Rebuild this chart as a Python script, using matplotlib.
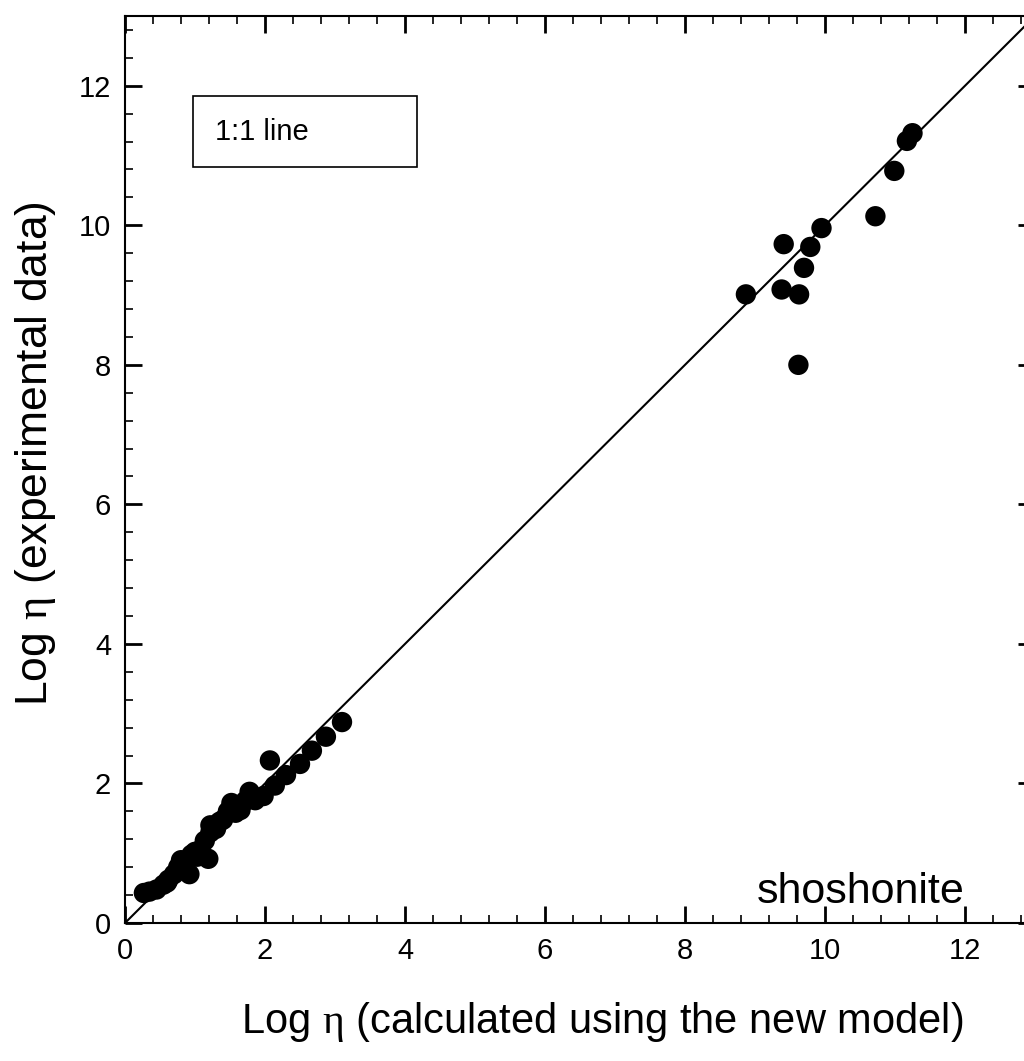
import matplotlib
matplotlib.use("Agg")
import matplotlib.pyplot as plt
from matplotlib.patches import Rectangle
from matplotlib.ticker import MultipleLocator

plt.rcParams['font.family'] = ['Liberation Sans', 'DejaVu Sans']
plt.rcParams['mathtext.fontset'] = 'custom'
plt.rcParams['mathtext.rm'] = 'Liberation Serif'
plt.rcParams['mathtext.it'] = 'Liberation Serif:italic'

# Data: log viscosity calculated (x) vs experimental (y)
x_calc = [0.27, 0.45, 0.55, 0.62, 0.70, 0.76, 0.80, 0.86, 0.92, 0.95, 1.00, 1.08,
          1.14, 1.19, 1.22, 1.22, 1.30, 1.40, 1.47, 1.52, 1.58, 1.65, 1.72, 1.78,
          1.86, 1.98, 2.07, 2.14, 2.30, 2.50, 2.67, 2.87, 3.10,
          0.35, 0.60, 0.83, 1.03, 1.35, 1.60,
          8.87, 9.38, 9.41, 9.62, 9.63, 9.70, 9.79, 9.95, 10.72, 10.99, 11.17, 11.25]
y_exp = [0.43, 0.48, 0.55, 0.62, 0.70, 0.80, 0.90, 0.85, 0.70, 0.98, 1.02, 1.05,
         1.18, 0.92, 1.30, 1.40, 1.35, 1.48, 1.60, 1.72, 1.58, 1.62, 1.75, 1.88,
         1.76, 1.82, 2.33, 1.97, 2.12, 2.28, 2.47, 2.67, 2.88,
         0.45, 0.58, 0.78, 0.95, 1.45, 1.68,
         9.01, 9.08, 9.73, 8.00, 9.01, 9.39, 9.69, 9.96, 10.13, 10.78, 11.21, 11.32]
one_to_one = [0, 13]

W, H = 1024, 1061
fig = plt.figure(figsize=(W / 100, H / 100), dpi=100)
ax = fig.add_axes([125 / W, (H - 923) / H, 910 / W, 907 / H])

ax.plot(one_to_one, one_to_one, color='black', lw=1.5, zorder=2)
ax.scatter(x_calc, y_exp, s=215, color='black', edgecolors='none', zorder=3)

ax.set_xlim(0, 13)
ax.set_ylim(0, 13)
ax.xaxis.set_major_locator(MultipleLocator(2))
ax.yaxis.set_major_locator(MultipleLocator(2))
ax.xaxis.set_minor_locator(MultipleLocator(0.4))
ax.yaxis.set_minor_locator(MultipleLocator(0.4))
ax.tick_params(which='both', direction='in', top=True, right=True,
               labelsize=21, pad=10)
ax.tick_params(which='major', length=12, width=2)
ax.tick_params(which='minor', length=6, width=1.2)
for sp in ax.spines.values():
    sp.set_linewidth(1.5)

ax.set_xlabel(r'Log $\mathrm{\eta}$ (calculated using the new model)', fontsize=30)
ax.xaxis.set_label_coords(0.524, -0.085)
ax.set_ylabel(r'Log $\mathrm{\eta}$ (experimental data)', fontsize=32)
ax.yaxis.set_label_coords(-0.074, 0.518)

ax.add_patch(Rectangle((0.0747, 0.833), 0.2463, 0.0785, transform=ax.transAxes,
                       fill=False, edgecolor='black', lw=1.2, zorder=4))
ax.text(0.099, 0.872, '1:1 line', transform=ax.transAxes, fontsize=21,
        ha='left', va='center', zorder=5)
ax.text(0.923, 0.022, 'shoshonite', transform=ax.transAxes, fontsize=31,
        ha='right', va='baseline')

fig.savefig('out.png', dpi=100)
